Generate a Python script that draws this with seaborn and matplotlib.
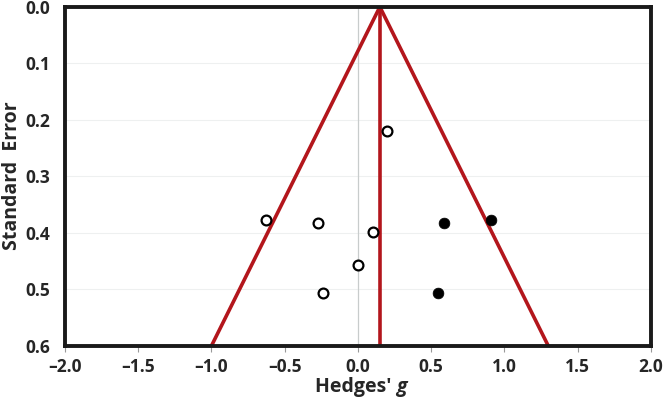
import numpy as np
import pandas as pd
import matplotlib
matplotlib.use("Agg")
import matplotlib.pyplot as plt
import seaborn as sns

# study effects (Hedges' g) and standard errors
g_observed = [0.20, -0.63, -0.27, 0.10, 0.00, -0.24]
se_observed = [0.219, 0.377, 0.382, 0.398, 0.457, 0.506]
g_imputed = [0.59, 0.91, 0.55]
se_imputed = [0.382, 0.377, 0.506]

# funnel: pooled estimate and 95% limits
pooled_g = 0.15
funnel_se = [0.6, 0.0, 0.6]
funnel_g = [-1.0, 0.15, 1.30]

x_ticks = [-2.0, -1.5, -1.0, -0.5, 0.0, 0.5, 1.0, 1.5, 2.0]
y_ticks = [0.0, 0.1, 0.2, 0.3, 0.4, 0.5, 0.6]

sns.set_theme(style="white")
plt.rcParams["font.family"] = ["Open Sans", "DejaVu Sans"]
plt.rcParams["font.weight"] = "bold"

fig = plt.figure(figsize=(6.64, 4.04), dpi=100)
ax = fig.add_axes([0.098, 0.144, 0.882, 0.839])

red = "#b3161c"

for yv in y_ticks[1:-1]:
    ax.axhline(yv, color="#eef0f0", lw=0.8, zorder=0)
ax.axvline(0, color="#c8cccc", lw=0.9, zorder=0)

funnel = pd.DataFrame({"g": funnel_g, "se": funnel_se})
ax.plot(funnel["g"], funnel["se"], color=red, lw=2.6, zorder=2)
ax.plot([pooled_g, pooled_g], [0, 0.6], color=red, lw=2.6, zorder=2)

obs = pd.DataFrame({"g": g_observed, "se": se_observed})
imp = pd.DataFrame({"g": g_imputed, "se": se_imputed})
sns.scatterplot(data=obs, x="g", y="se", ax=ax, marker="o", s=50,
                facecolor="white", edgecolor="black", linewidth=1.6, zorder=3)
sns.scatterplot(data=imp, x="g", y="se", ax=ax, marker="o", s=60,
                color="black", edgecolor="black", linewidth=0.5, zorder=3)

ax.set_xlim(-2.0, 2.0)
ax.set_ylim(0.6, 0.0)
ax.set_xticks(x_ticks)
ax.set_xticklabels([f"{t:.1f}".replace("-", "\u2013") for t in x_ticks])
ax.set_yticks(y_ticks)
ax.set_yticklabels([f"{t:.1f}" for t in y_ticks])
ax.tick_params(axis="x", bottom=True, length=4, width=0.8, color="#999999",
               labelsize=12.5, pad=5)
ax.tick_params(axis="y", left=False, labelsize=12.5, pad=5)
for lab in ax.get_xticklabels() + ax.get_yticklabels():
    lab.set_fontweight("bold")

for sp in ax.spines.values():
    sp.set_color("#1a1a1a")
    sp.set_linewidth(2.8)

ax.set_xlabel("")
ax.set_ylabel("")
fig.text(0.597, 0.018, "Hedges' ", fontsize=14, fontweight="bold", ha="right", va="bottom")
fig.text(0.597, 0.018, "g", fontsize=14, fontweight="bold", style="italic", ha="left", va="bottom")
fig.text(0.018, 0.564, "Standard  Error", fontsize=14, fontweight="bold",
         rotation=90, ha="center", va="center")

fig.savefig("out.png", dpi=100)
